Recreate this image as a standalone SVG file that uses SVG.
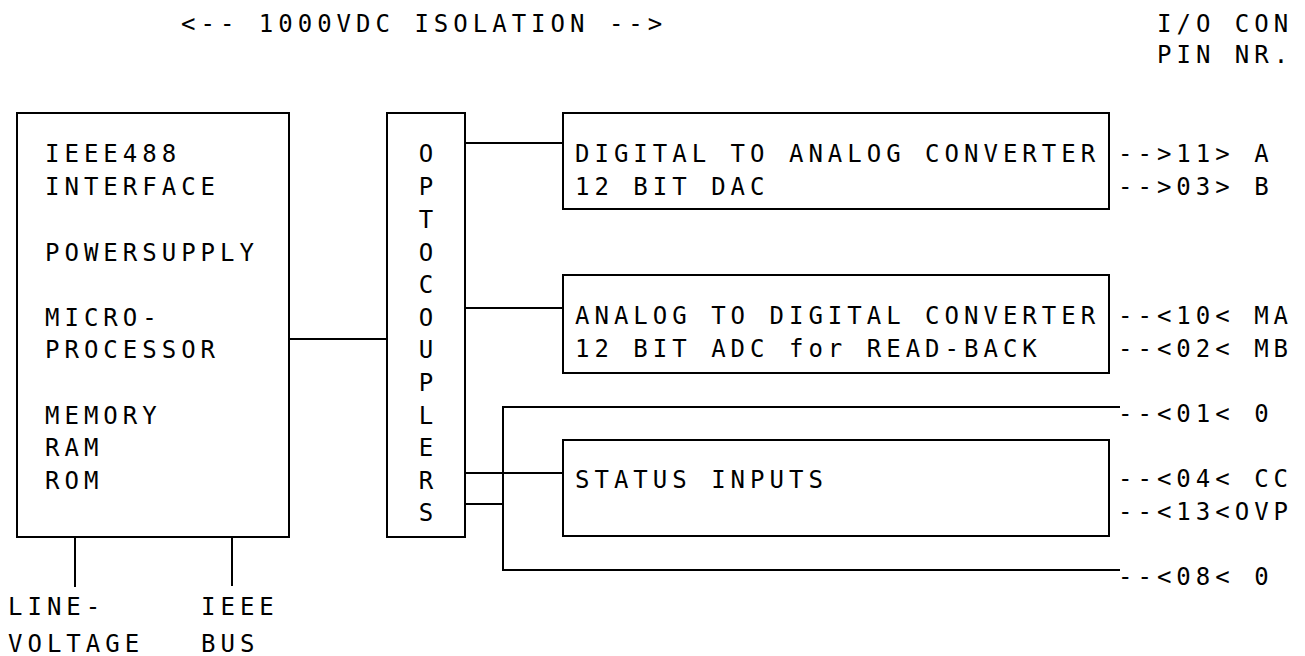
<svg xmlns="http://www.w3.org/2000/svg" width="1305" height="656" viewBox="0 0 1305 656">
<style>
text{font-family:"DejaVu Sans Mono","Liberation Mono",monospace;font-size:24px;fill:#000;letter-spacing:5px}
.c{text-anchor:middle;letter-spacing:0}
.box,path,line{fill:none;stroke:#000;stroke-width:2}
</style>
<rect width="1305" height="656" fill="#fff"/>
<g id="header">
<text x="181" y="32">&lt;-- 1000VDC ISOLATION --&gt;</text>
<text x="1157" y="32">I/O CON</text>
<text x="1157" y="63">PIN NR.</text>
</g>
<g id="main">
<rect class="box" x="17" y="113" width="272" height="424"/>
<text x="45" y="162">IEEE488</text>
<text x="45" y="195">INTERFACE</text>
<text x="45" y="261">POWERSUPPLY</text>
<text x="45" y="326">MICRO-</text>
<text x="45" y="358">PROCESSOR</text>
<text x="45" y="424">MEMORY</text>
<text x="45" y="456">RAM</text>
<text x="45" y="489">ROM</text>
</g>
<g id="optocouplers">
<rect class="box" x="387" y="113" width="78" height="424"/>
<text class="c" x="426" y="162">O</text>
<text class="c" x="426" y="195">P</text>
<text class="c" x="426" y="228">T</text>
<text class="c" x="426" y="261">O</text>
<text class="c" x="426" y="293">C</text>
<text class="c" x="426" y="326">O</text>
<text class="c" x="426" y="358">U</text>
<text class="c" x="426" y="391">P</text>
<text class="c" x="426" y="424">L</text>
<text class="c" x="426" y="456">E</text>
<text class="c" x="426" y="489">R</text>
<text class="c" x="426" y="521">S</text>
</g>
<g id="dac">
<rect class="box" x="563" y="113" width="546" height="96"/>
<text x="575" y="162">DIGITAL TO ANALOG CONVERTER</text>
<text x="575" y="195">12 BIT DAC</text>
</g>
<g id="adc">
<rect class="box" x="563" y="275" width="546" height="98"/>
<text x="575" y="324">ANALOG TO DIGITAL CONVERTER</text>
<text x="575" y="357">12 BIT ADC for READ-BACK</text>
</g>
<g id="status">
<rect class="box" x="563" y="440" width="546" height="96"/>
<text x="575" y="488">STATUS INPUTS</text>
</g>
<g id="pins">
<text x="1118" y="162">--&gt;11&gt; A</text>
<text x="1118" y="195">--&gt;03&gt; B</text>
<text x="1118" y="324">--&lt;10&lt; MA</text>
<text x="1118" y="357">--&lt;02&lt; MB</text>
<text x="1118" y="422">--&lt;01&lt; 0</text>
<text x="1118" y="487">--&lt;04&lt; CC</text>
<text x="1118" y="520">--&lt;13&lt;OVP</text>
<text x="1118" y="585">--&lt;08&lt; 0</text>
</g>
<g id="bottom-labels">
<text x="8" y="615">LINE-</text>
<text x="8" y="652">VOLTAGE</text>
<text x="201" y="615">IEEE</text>
<text x="201" y="652">BUS</text>
</g>
<g id="connectors">
<line x1="289" y1="339" x2="387" y2="339"/>
<line x1="465" y1="143" x2="563" y2="143"/>
<line x1="465" y1="308" x2="563" y2="308"/>
<line x1="465" y1="473" x2="563" y2="473"/>
<line x1="465" y1="504" x2="503" y2="504"/>
<path d="M1120 407 H503 V570 H1120"/>
<line x1="75" y1="537" x2="75" y2="587"/>
<line x1="232" y1="537" x2="232" y2="586"/>
</g>
</svg>
